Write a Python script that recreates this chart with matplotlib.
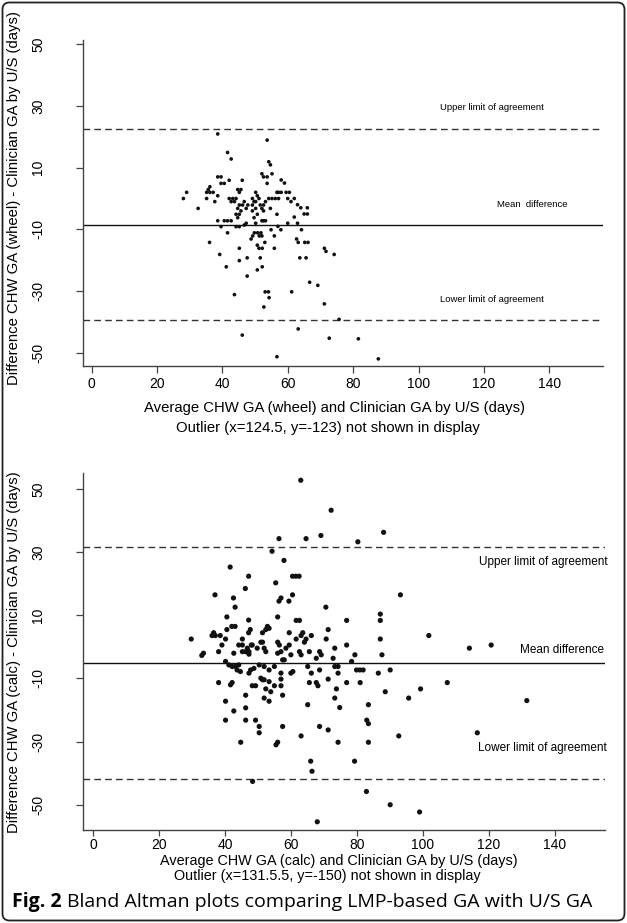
import matplotlib
matplotlib.use("Agg")
import matplotlib.pyplot as plt
from matplotlib.patches import FancyBboxPatch

plt.rcParams['font.family'] = ['Liberation Sans', 'DejaVu Sans']

# ---------------- data ----------------
xticks = [0, 20, 40, 60, 80, 100, 120, 140]
yticks = [-50, -30, -10, 10, 30, 50]

top_x = [38.6, 53.7, 41.6, 42.7, 54.2, 54.7, 52.1, 55.2,
         38.6, 39.6, 52.6, 53.7, 42.1, 46.1, 39.6, 40.6, 53.7,
         36.2, 35.7, 44.7, 45.7,
         29.1, 35.2, 36.2, 37.2, 45.2, 50.2, 56.7, 57.2,
         38.6, 50.7,
         28.1, 35.2, 42.1, 43.2, 44.2, 49.2, 51.2, 54.2, 55.2, 56.2, 57.2,
         37.7, 42.7, 43.7, 46.7, 50.2, 49.7, 53.2,
         45.2, 46.2, 47.8, 49.2, 51.6, 52.6,
         32.6, 44.7, 47.3, 50.2, 52.1, 54.7,
         45.7, 49.2, 52.6,
         44.2, 45.2, 50.7, 56.7,
         44.7, 49.7,
         38.6, 40.6, 41.6, 42.7, 52.1, 52.6, 53.2,
         47.3, 50.2, 46.7,
         39.6, 44.2, 45.2,
         41.6, 49.8, 50.8, 51.8, 54.9, 57.9, 64.2, 49.3, 51.3, 52.1, 55.9, 48.8,
         36.1, 53.0, 63.2, 65.2, 66.2, 62.7, 50.7, 51.2, 52.2, 45.2, 55.9, 71.2,
         71.7, 39.2, 74.2, 47.6, 51.6, 63.7, 65.6, 45.2, 41.2, 52.2, 50.7, 47.6,
         66.7, 69.2, 43.7, 53.1, 54.1, 61.2, 54.3, 52.7, 71.2, 75.7, 63.2, 46.1,
         72.7, 81.6, 56.7, 87.7,
         58.0, 59.5, 60.5, 62.0, 60.0, 63.0, 61.0, 64.0, 65.0, 66.0, 66.0, 62.0,
         59.0, 58.0, 60.0, 63.0, 57.0]
top_y = [20.9, 18.9, 14.9, 12.8, 11.9, 10.9, 8.0, 8.0,
         7.0, 7.0, 7.0, 7.0, 5.9, 5.9, 4.9, 4.9, 4.9,
         3.8, 2.9, 2.9, 2.9,
         2.0, 2.0, 2.0, 2.0, 2.0, 2.0, 2.0, 2.0,
         0.9, 0.9,
         0.0, 0.0, 0.0, 0.0, 0.0, 0.0, 0.0, 0.0, 0.0, 0.0, 0.0,
         -1.0, -1.0, -1.0, -1.0, -1.0, -1.0, -1.0,
         -2.1, -2.1, -2.1, -2.1, -2.1, -2.1,
         -3.2, -3.2, -3.2, -3.2, -3.2, -3.2,
         -4.0, -4.0, -4.0,
         -5.1, -5.1, -5.1, -5.1,
         -6.2, -6.2,
         -7.2, -7.2, -7.2, -7.2, -7.2, -7.2, -7.2,
         -8.0, -8.0, -8.6,
         -9.1, -9.1, -9.1,
         -11.1, -11.1, -11.1, -11.1, -10.1, -10.1, -10.1, -12.1, -12.1, -12.1, -12.1, -13.1,
         -14.2, -14.2, -14.2, -14.2, -14.2, -13.1, -15.1, -16.1, -16.1, -16.1, -16.1, -16.1,
         -17.1, -18.1, -18.1, -19.2, -19.2, -19.2, -19.2, -20.1, -22.1, -22.1, -23.1, -25.1,
         -27.1, -28.1, -31.1, -30.2, -30.2, -30.2, -32.1, -35.1, -34.1, -39.1, -42.2, -44.2,
         -45.2, -45.4, -51.2, -51.9,
         2.0, 2.0, 2.0, 0.0, 0.0, -2.0, -1.0, -3.0, -5.0, -5.0, -3.0, -6.0,
         5.0, 6.0, -8.0, -8.0, -9.0]

top_mean, top_upper, top_lower = -8.6, 22.4, -39.3

bot_x = [63.0, 72.2, 56.4, 64.6, 69.1, 80.3, 88.1, 54.3, 57.9, 41.6, 47.2, 55.4,
         60.5, 61.5, 62.5, 46.2, 37.0, 42.6, 43.1, 56.4, 57.0, 60.5, 59.4, 93.2, 70.6,
         40.6, 47.2, 40.6, 42.1, 43.1, 47.2, 47.7, 29.8, 36.6, 37.1, 36.1, 38.6,
         40.2, 45.3, 39.1, 38.1, 44.2, 45.3, 48.0, 33.0, 33.5, 42.7, 45.3, 46.3,
         46.8, 47.3, 47.3,
         40.2, 41.2, 42.2, 43.2, 44.2, 43.7, 44.7, 47.3, 47.8,
         38.1, 41.7, 42.2, 46.3, 40.2, 46.3, 42.7, 40.2, 46.3, 44.8,
         56.0, 61.6, 62.6, 76.9, 87.1, 87.1, 52.9, 53.4, 52.4, 71.3, 51.4, 59.5,
         63.6, 63.1, 66.2, 61.6, 64.1, 64.6, 70.7, 87.1, 101.8, 114.1, 120.7,
         48.3, 51.4, 50.9, 51.9, 49.8, 52.4, 56.0, 56.5, 58.5, 59.5, 56.0, 57.0,
         57.5, 58.0,
         60.0, 62.6, 63.1, 65.6, 68.7, 69.2, 67.7, 73.3, 72.8, 76.9, 79.4, 78.4, 87.6,
         48.8, 50.4, 51.9, 53.4, 55.0, 57.0, 60.6, 60.0, 65.1, 66.2, 68.7, 73.3,
         74.3, 74.3, 79.9, 80.9, 81.9, 86.5, 90.1,
         50.9, 51.4, 51.9, 53.4, 49.3, 48.3, 52.4, 53.9, 55.0, 57.0, 57.0, 57.5,
         51.9, 53.4,
         65.6, 67.7, 68.2, 71.3, 73.8, 76.9, 81.0, 73.3, 74.8,
         88.6, 95.7, 99.3, 107.4, 131.5,
         65.1, 83.5,
         49.3, 50.4, 50.4, 57.5, 68.7, 71.3, 83.0, 83.5, 63.1, 92.7, 116.5, 55.5,
         56.0, 74.3, 83.5,
         66.0, 66.4, 79.3, 48.4, 82.9, 90.1, 99.0, 68.0]
bot_y = [52.8, 43.3, 34.3, 34.3, 35.3, 33.3, 36.3, 30.3, 27.4, 25.3, 22.4, 20.3,
         22.4, 22.4, 22.4, 18.5, 16.5, 15.5, 12.6, 14.5, 15.5, 16.5, 14.5, 16.5, 12.6,
         9.5, 8.5, 5.5, 6.5, 6.5, 4.5, 5.5, 2.5, 4.5, 3.6, 3.6, 3.6,
         2.5, 2.5, 0.6, -1.5, 0.6, 0.6, 0.6, -2.7, -2.0, -2.0, -1.5, -1.5,
         -0.4, -1.5, -2.3,
         -4.6, -5.7, -6.2, -6.2, -5.7, -7.3, -7.8, -8.3, -7.3,
         -11.3, -12.0, -11.3, -15.3, -17.2, -19.3, -20.3, -23.2, -23.2, -30.2,
         9.5, 8.4, 8.4, 8.4, 10.4, 8.4, 6.5, 5.9, 5.5, 5.5, 4.5, 4.5,
         4.5, 3.6, 3.6, 2.5, 1.5, 2.5, 2.5, 2.5, 3.6, -0.4, 0.6,
         0.6, 1.5, 1.5, -0.4, -0.4, -1.5, 1.5, 0.6, -0.4, 0.6, -2.0, -1.5,
         -4.1, -4.1,
         -2.5, -1.5, -2.5, -1.5, -1.5, -2.5, -3.6, -0.4, -3.6, 0.6, -2.5, -4.6, -2.5,
         -6.8, -5.7, -6.2, -7.3, -6.2, -8.3, -7.8, -8.3, -6.2, -8.3, -7.3, -6.2,
         -6.2, -8.3, -7.3, -7.3, -7.3, -8.3, -7.3,
         -9.9, -10.4, -10.4, -11.0, -12.3, -12.3, -13.3, -14.2, -12.3, -12.3, -10.2, -15.3,
         -16.2, -17.2,
         -11.3, -11.3, -12.3, -10.2, -13.3, -11.3, -11.3, -16.2, -19.2,
         -14.2, -16.2, -13.3, -11.3, -17.0,
         -18.3, -18.3,
         -23.2, -25.2, -27.2, -25.2, -25.2, -26.3, -23.2, -24.3, -28.2, -28.2, -27.2, -31.0,
         -30.2, -30.2, -30.2,
         -36.2, -39.4, -36.2, -42.6, -45.8, -50.0, -52.3, -55.4]

bot_mean, bot_upper, bot_lower = -5.1, 31.6, -41.8

# ---------------- layout ----------------
W, H = 627, 923
fig = plt.figure(figsize=(W / 100, H / 100), dpi=100)

bg = fig.add_axes([0, 0, 1, 1])
bg.set_xlim(0, W)
bg.set_ylim(H, 0)
bg.axis('off')
bg.add_patch(FancyBboxPatch((2.5, 2.5), W - 5, H - 5,
                            boxstyle="round,pad=0,rounding_size=7",
                            fill=False, ec='#222222', lw=1.3))


def axes_px(left, top, right, bottom):
    return fig.add_axes([left / W, 1 - bottom / H, (right - left) / W, (bottom - top) / H])


def panel(ax, x, y, mean, up, lo, xlim, ylim, ms, xpad, xlen):
    ax.set_facecolor('none')
    ax.scatter(x, y, s=ms, c='#111111', edgecolors='none', zorder=3, clip_on=False)
    ax.axhline(up, color='#333333', lw=1.0, ls=(0, (4.8, 3.0)))
    ax.axhline(mean, color='#111111', lw=1.0)
    ax.axhline(lo, color='#333333', lw=1.0, ls=(0, (4.8, 3.0)))
    ax.set_xlim(*xlim)
    ax.set_ylim(*ylim)
    for s in ('top', 'right'):
        ax.spines[s].set_visible(False)
    for s in ('left', 'bottom'):
        ax.spines[s].set_color('#444444')
        ax.spines[s].set_linewidth(1.0)
    ax.set_xticks(xticks)
    ax.set_yticks(yticks)
    ax.set_yticklabels([str(v) for v in yticks], rotation=90, va='center')
    ax.tick_params(axis='y', direction='out', length=5, width=0.9, color='#444444',
                   labelsize=10, pad=22)
    ax.tick_params(axis='x', direction='out', length=xlen, width=0.9, color='#444444',
                   labelsize=10, pad=xpad)


# top panel
ax1 = axes_px(83, 40, 603, 366)
panel(ax1, top_x, top_y, top_mean, top_upper, top_lower,
      (-2.6, 156.4), (-54.2, 51.3), 7, 3, 5)
ax1.text(106.6, top_upper + 7.0, 'Upper limit of agreement', fontsize=6.8, va='center', ha='left')
ax1.text(124.0, top_mean + 6.8, 'Mean  difference', fontsize=6.8, va='center', ha='left')
ax1.text(106.6, top_lower + 6.5, 'Lower limit of agreement', fontsize=6.8, va='center', ha='left')

# bottom panel
ax2 = axes_px(83, 473, 605, 830)
panel(ax2, bot_x, bot_y, bot_mean, bot_upper, bot_lower,
      (-3.0, 155.2), (-58.0, 55.1), 14, 1.5, 4)
ax2.text(156.0, 26.9, 'Upper limit of agreement', fontsize=8.5, va='center', ha='right', clip_on=False)
ax2.text(154.8, -0.95, 'Mean difference', fontsize=8.5, va='center', ha='right', clip_on=False)
ax2.text(155.8, -32.0, 'Lower limit of agreement', fontsize=8.5, va='center', ha='right', clip_on=False)

# axis titles
fig.text(14 / W, 1 - 198 / H, 'Difference CHW GA (wheel) - Clinician GA by U/S (days)',
         rotation=90, ha='center', va='center', fontsize=10.7)
fig.text(14 / W, 1 - 652 / H, 'Difference CHW GA (calc) - Clinician GA by U/S (days)',
         rotation=90, ha='center', va='center', fontsize=10.7)
fig.text(334 / W, 1 - 408 / H, 'Average CHW GA (wheel) and Clinician GA by U/S (days)',
         ha='center', va='center', fontsize=10.7)
fig.text(328 / W, 1 - 428 / H, 'Outlier (x=124.5, y=-123) not shown in display',
         ha='center', va='center', fontsize=10.7)
fig.text(339 / W, 1 - 861 / H, 'Average CHW GA (calc) and Clinician GA by U/S (days)',
         ha='center', va='center', fontsize=10.4)
fig.text(327 / W, 1 - 876 / H, 'Outlier (x=131.5.5, y=-150) not shown in display',
         ha='center', va='center', fontsize=10.4)

# caption
renderer = fig.canvas.get_renderer()
t1 = fig.text(12 / W, 1 - 902 / H, 'Fig. 2', fontsize=14, fontweight='bold',
              family=['Open Sans', 'DejaVu Sans'], ha='left', va='center')
bb = t1.get_window_extent(renderer)
fig.text((bb.x1 + 5) / W, 1 - 902 / H, 'Bland Altman plots comparing LMP-based GA with U/S GA',
         fontsize=14, family=['Open Sans', 'DejaVu Sans'], ha='left', va='center')

fig.savefig('out.png', dpi=100)
